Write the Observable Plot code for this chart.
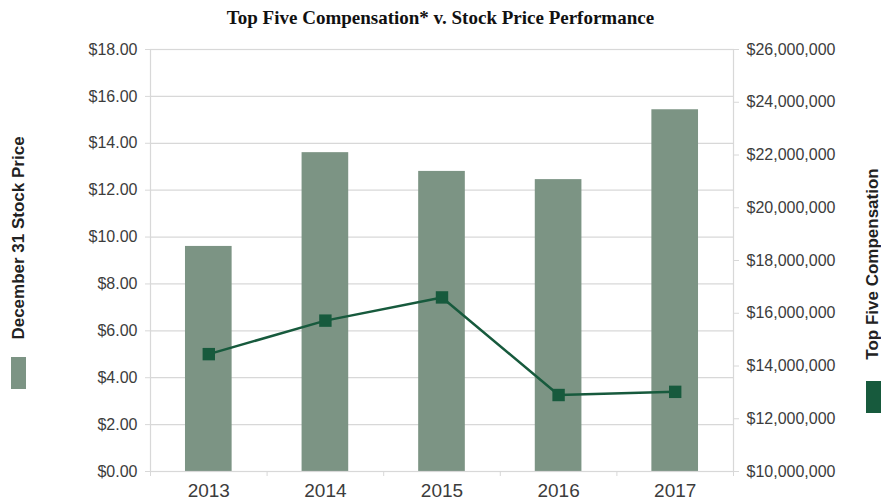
<!DOCTYPE html>
<html>
<head>
<meta charset="utf-8">
<script src="https://cdn.jsdelivr.net/npm/d3@7"></script>
<script src="https://cdn.jsdelivr.net/npm/@observablehq/plot@0.6"></script>
<style>
  html, body { margin: 0; padding: 0; background: #fff; }
  #wrap { position: relative; width: 881px; height: 501px; overflow: hidden; background: #fff; }
  #title { height: 36px; line-height: 36px; text-align: center; font-family: "Liberation Serif", "Times New Roman", serif; font-weight: bold; font-size: 19px; color: #111; }
  .vtitle { position: absolute; white-space: nowrap; font-family: "Liberation Sans", Arial, sans-serif; font-weight: bold; font-size: 17px; color: #222; transform: translate(-50%, -50%) rotate(-90deg); }
  .swatch { position: absolute; width: 15px; height: 32px; }
</style>
</head>
<body>
<div id="wrap">
  <div id="title">Top Five Compensation* v. Stock Price Performance</div>
  <div id="chart"></div>
  <div class="vtitle" style="left:19px; top:238px;">December 31 Stock Price</div>
  <div class="swatch" style="left:11px; top:357px; background:#7c9484;"></div>
  <div class="vtitle" style="left:873px; top:264px;">Top Five Compensation</div>
  <div class="swatch" style="left:866px; top:381px; background:#175a3d;"></div>
</div>
<script>
const years = [2013, 2014, 2015, 2016, 2017];
const stockPrice = [9.6, 13.6, 12.8, 12.45, 15.43];
const compensation = [14450000, 15720000, 16600000, 12900000, 13020000];
const leftTicks = [0, 2, 4, 6, 8, 10, 12, 14, 16, 18];
const rightTicks = [10000000, 12000000, 14000000, 16000000, 18000000, 20000000, 22000000, 24000000, 26000000];

const leftMax = 18;
const compMin = 10000000, compMax = 26000000;
const toLeft = c => (c - compMin) / (compMax - compMin) * leftMax;
const fromLeft = v => compMin + v / leftMax * (compMax - compMin);

const data = years.map((y, i) => ({year: y, price: stockPrice[i], comp: compensation[i]}));
const boundaries = years.map(y => y - 0.5).concat([years[years.length - 1] + 0.5]);

const barColor = "#7c9484";
const lineColor = "#175a3d";
const gridColor = "#d8d8d8";
const textColor = "#3c3c3c";

const chart = Plot.plot({
  width: 881,
  height: 465,
  marginTop: 13,
  marginBottom: 30,
  marginLeft: 150,
  marginRight: 148,
  style: {fontFamily: "'Liberation Sans', Arial, sans-serif", background: "transparent"},
  x: {domain: [years[0] - 0.5, years[years.length - 1] + 0.5]},
  y: {domain: [0, leftMax]},
  marks: [
    Plot.ruleY(leftTicks, {y: d => d, stroke: gridColor, strokeWidth: 1.2}),
    Plot.rectY(data, {x1: d => d.year - 0.2, x2: d => d.year + 0.2, y1: 0, y2: "price", fill: barColor}),
    Plot.frame({stroke: gridColor, strokeWidth: 1.2}),
    Plot.axisY(leftTicks, {anchor: "left", tickSize: 5, tickPadding: 8, stroke: gridColor, fill: textColor, fontSize: 16, tickFormat: d => "$" + d.toFixed(2), label: null}),
    Plot.axisY(rightTicks.map(toLeft), {anchor: "right", tickSize: 5, tickPadding: 8, stroke: gridColor, fill: textColor, fontSize: 16, tickFormat: v => "$" + d3.format(",")(Math.round(fromLeft(v) / 1000) * 1000), label: null}),
    Plot.axisX(boundaries, {tickSize: 5, tickFormat: () => "", stroke: gridColor, label: null}),
    Plot.axisX(years, {tickSize: 0, tickPadding: 12, fill: textColor, fontSize: 19, tickFormat: d => String(d), label: null}),
    Plot.line(data, {x: "year", y: d => toLeft(d.comp), stroke: lineColor, strokeWidth: 2.5}),
    Plot.dot(data, {x: "year", y: d => toLeft(d.comp), symbol: "square", r: 7, fill: lineColor})
  ]
});
document.getElementById("chart").appendChild(chart);
</script>
</body>
</html>
